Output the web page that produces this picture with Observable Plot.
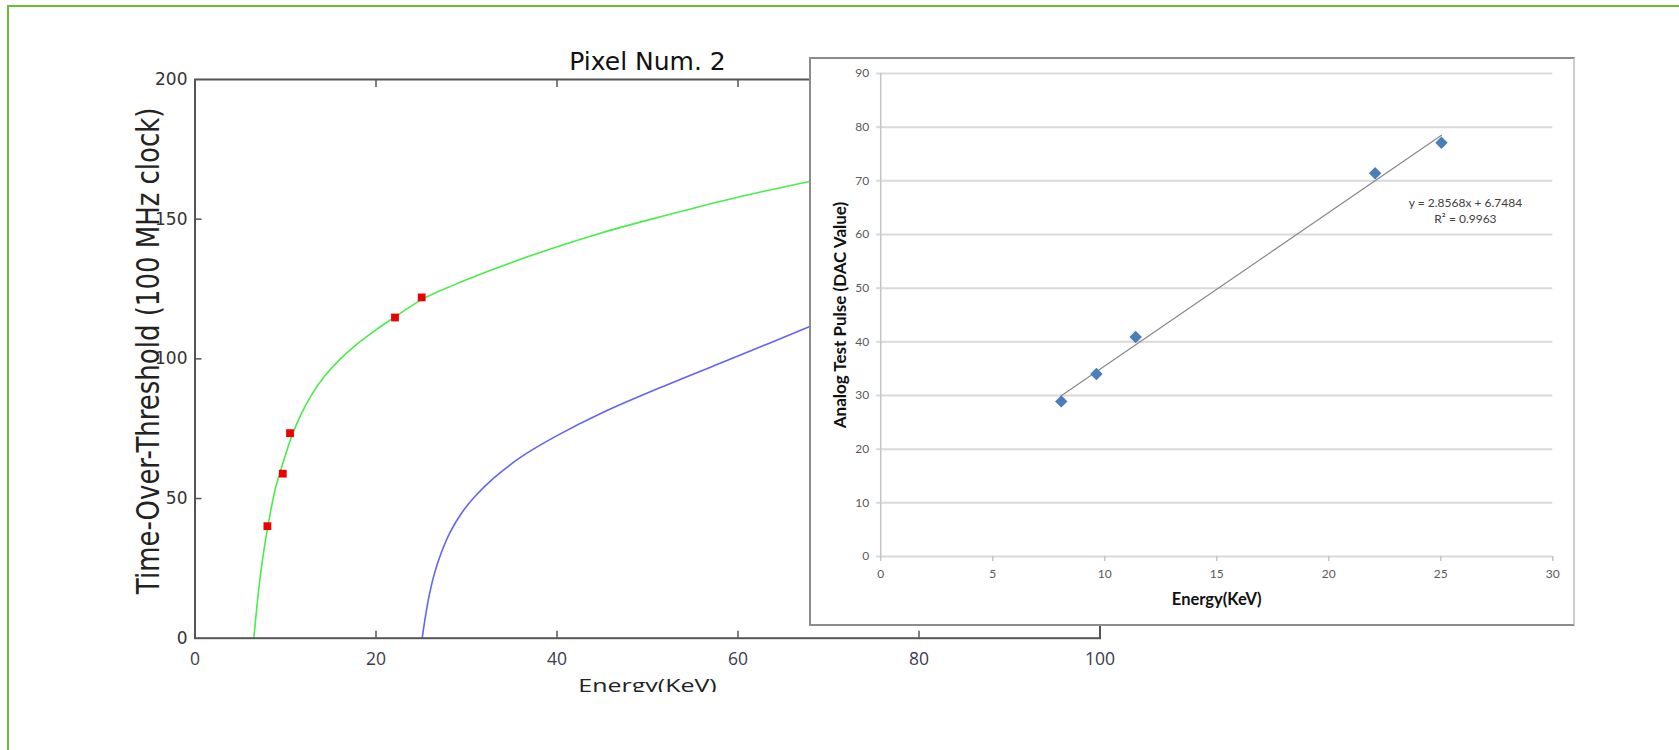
<!DOCTYPE html>
<html>
<head>
<meta charset="utf-8">
<script src="https://cdn.jsdelivr.net/npm/d3@7"></script>
<script src="https://cdn.jsdelivr.net/npm/@observablehq/plot@0.6"></script>
<style>
  html, body { margin: 0; padding: 0; background: #fff; }
  #page { position: relative; width: 1679px; height: 750px; overflow: hidden; background: #fff; }
  #frame { position: absolute; left: 7px; top: 5px; width: 1700px; height: 800px; box-sizing: border-box;
           border-left: 2px solid #6abd35; border-top: 2px solid #6abd35; }
  #main { position: absolute; left: 0; top: 0; width: 1679px; height: 692px; overflow: hidden; }
  #inset { position: absolute; left: 809px; top: 57px; width: 766px; height: 569px; box-sizing: border-box;
           border: 2px solid #8c8c8c; border-right-color: #cccccc; background: #fff; overflow: hidden; }
  svg { display: block; }
</style>
</head>
<body>
<div id="page">
  <div id="frame"></div>
  <div id="main"></div>
  <div id="inset"></div>
</div>
<script>
// ---------- Main chart data ----------
const mainTitle = "Pixel Num. 2";
const mainXLabel = "Energy(KeV)";
const mainYLabel = "Time-Over-Threshold (100 MHz clock)";
const xTickValues = [0, 20, 40, 60, 80, 100];
const yTickValues = [0, 50, 100, 150, 200];
const innerXTicks = [20, 40, 60, 80];
const innerYTicks = [50, 100, 150];

// green fitted curve
const greenEnergy = [6.5, 6.8, 7.05, 7.5, 8.05, 8.9, 9.8, 10.6, 11.7, 12.9, 14.2, 16, 17.9, 20, 22.1, 25.1, 28.5, 32.6, 37.4, 44.8, 52.2, 59.5, 67.9];
const greenTot    = [0, 10, 17.8, 29, 40, 53.8, 63.5, 71.5, 80, 87.2, 93.3, 99.8, 105.3, 110.4, 115, 121.3, 126.3, 131.6, 137.3, 145, 151.5, 157.5, 163.5];

// blue curve
const blueEnergy = [25.1, 25.4, 25.8, 26.4, 27.2, 28.2, 29.5, 31, 33, 36, 40, 45, 52, 60, 68];
const blueTot    = [0, 6.5, 14, 22.5, 30.5, 38, 45, 51, 57.3, 64.8, 72.5, 80.7, 90.5, 101, 111.7];

// red measured points
const measEnergy = [8.0, 9.7, 10.5, 22.1, 25.05];
const measTot    = [40.1, 58.9, 73.4, 114.8, 122.0];

// ---------- Inset chart data ----------
const insetXLabel = "Energy(KeV)";
const insetYLabel = "Analog Test Pulse (DAC Value)";
const insetXTicks = [0, 5, 10, 15, 20, 25, 30];
const insetYTicks = [0, 10, 20, 30, 40, 50, 60, 70, 80, 90];
const insetEnergy = [8.06, 9.63, 11.38, 22.07, 25.03];
const insetDac    = [28.9, 34.0, 40.9, 71.4, 77.1];
const equationText = "y = 2.8568x + 6.7484\nR\u00B2 = 0.9963";
const equationEnergy = [26.1];
const equationDac = [64.6];

// ---------- build tables ----------
const green = greenEnergy.map((e, i) => ({e, t: greenTot[i]}));
const blue = blueEnergy.map((e, i) => ({e, t: blueTot[i]}));
const meas = measEnergy.map((e, i) => ({e, t: measTot[i]}));
const insetPts = insetEnergy.map((e, i) => ({e, d: insetDac[i]}));
const eqn = equationEnergy.map((e, i) => ({e, d: equationDac[i], text: equationText}));

const frameColor = "#555555";

const main = Plot.plot({
  width: 1679,
  height: 692,
  marginLeft: 194.5,
  marginRight: 579.5,
  marginTop: 79,
  marginBottom: 54.3,
  style: {background: "transparent", overflow: "hidden"},
  x: {domain: [0, 100]},
  y: {domain: [0, 200]},
  marks: [
    Plot.line(green, {x: "e", y: "t", stroke: "#48ee48", strokeWidth: 1.6, curve: "catmull-rom"}),
    Plot.line(blue, {x: "e", y: "t", stroke: "#6464f2", strokeWidth: 1.6, curve: "catmull-rom"}),
    Plot.dot(meas, {x: "e", y: "t", symbol: "square", r: 4.4, fill: "#ee0000", stroke: null}),
    Plot.frame({stroke: frameColor, strokeWidth: 2}),
    // inward ticks
    Plot.axisX({anchor: "bottom", ticks: innerXTicks, tickSize: -7, fill: "none", stroke: frameColor, strokeWidth: 1.5}),
    Plot.axisX({anchor: "top", ticks: innerXTicks, tickSize: -7, fill: "none", stroke: frameColor, strokeWidth: 1.5}),
    Plot.axisY({anchor: "left", ticks: innerYTicks, tickSize: -7, fill: "none", stroke: frameColor, strokeWidth: 1.5}),
    Plot.axisY({anchor: "right", ticks: innerYTicks, tickSize: -7, fill: "none", stroke: frameColor, strokeWidth: 1.5}),
    // tick labels
    Plot.axisX({anchor: "bottom", ticks: xTickValues, tickSize: 0, tickPadding: 14, label: null,
      fontFamily: "Open Sans", fontSize: 17.5, fill: "#3c3c4e"}),
    Plot.axisY({anchor: "left", ticks: yTickValues, tickSize: 0, tickPadding: 7.5, label: null,
      fontFamily: "DejaVu Sans", fontSize: 17, fill: "#333"}),
    // axis titles
    Plot.axisX({anchor: "bottom", ticks: [], tickSize: 0, label: mainXLabel, labelAnchor: "center",
      labelArrow: "none", labelOffset: 54, fontFamily: "Open Sans", fontSize: 18.5, fill: "#222"}),
    Plot.axisY({anchor: "left", ticks: [], tickSize: 0, label: mainYLabel, labelAnchor: "center",
      labelArrow: "none", labelOffset: 58, fontFamily: "DejaVu Sans", fontSize: 26, fill: "#222"}),
    // title
    Plot.text([mainTitle], {text: d => d, frameAnchor: "top", lineAnchor: "bottom", dy: -9.7,
      fontFamily: "DejaVu Sans", fontSize: 25, fill: "#111"})
  ]
});

// stretch the axis titles as in the picture
const yl = main.querySelector('g[aria-label="y-axis label"] text');
if (yl) yl.setAttribute("transform", (yl.getAttribute("transform") || "") + " translate(8,0) scale(1,1.2)");
const xl = main.querySelector('g[aria-label="x-axis label"] text');
if (xl) xl.setAttribute("transform", (xl.getAttribute("transform") || "") + " scale(1.35,1)");
document.getElementById("main").appendChild(main);

// ---------- inset ----------
const gridColor = "#d9d9d9";
const inset = Plot.plot({
  width: 762,
  height: 565,
  marginLeft: 69.2,
  marginRight: 20.7,
  marginTop: 14,
  marginBottom: 68,
  style: {background: "#fff"},
  x: {domain: [0, 30]},
  y: {domain: [0, 90]},
  marks: [
    Plot.gridY(insetYTicks, {stroke: gridColor, strokeOpacity: 1, strokeWidth: 2}),
    Plot.ruleX([0], {stroke: "#c4c4c4", strokeWidth: 1.5}),
    Plot.axisY({ticks: insetYTicks, tickSize: 4, tickPadding: 7.5, label: null, stroke: gridColor, strokeWidth: 2,
      fontFamily: "Lato", fontSize: 12, fill: "#595959"}),
    Plot.axisX({ticks: insetXTicks, tickSize: 5, tickPadding: 7.5, label: null, stroke: "#c4c4c4", strokeWidth: 1.5,
      fontFamily: "Lato", fontSize: 12, fill: "#595959"}),
    Plot.axisX({ticks: [], tickSize: 0, label: insetXLabel, labelAnchor: "center", labelArrow: "none", labelOffset: 48,
      fontFamily: "Lato", fontSize: 16.5, fontWeight: "bold", fill: "#111"}),
    Plot.axisY({ticks: [], tickSize: 0, label: insetYLabel, labelAnchor: "center", labelArrow: "none", labelOffset: 47,
      fontFamily: "Lato", fontSize: 17, fontWeight: "bold", fill: "#111"}),
    Plot.linearRegressionY(insetPts, {x: "e", y: "d", stroke: "#888", strokeWidth: 1.2, ci: 0}),
    Plot.dot(insetPts, {x: "e", y: "d", symbol: "diamond2", r: 5.6, fill: "#4a7ebb", stroke: null}),
    Plot.text(eqn, {x: "e", y: "d", text: "text", lineHeight: 1.3, fontFamily: "Lato", fontSize: 12, fill: "#404040"})
  ]
});
document.getElementById("inset").appendChild(inset);
</script>
</body>
</html>
